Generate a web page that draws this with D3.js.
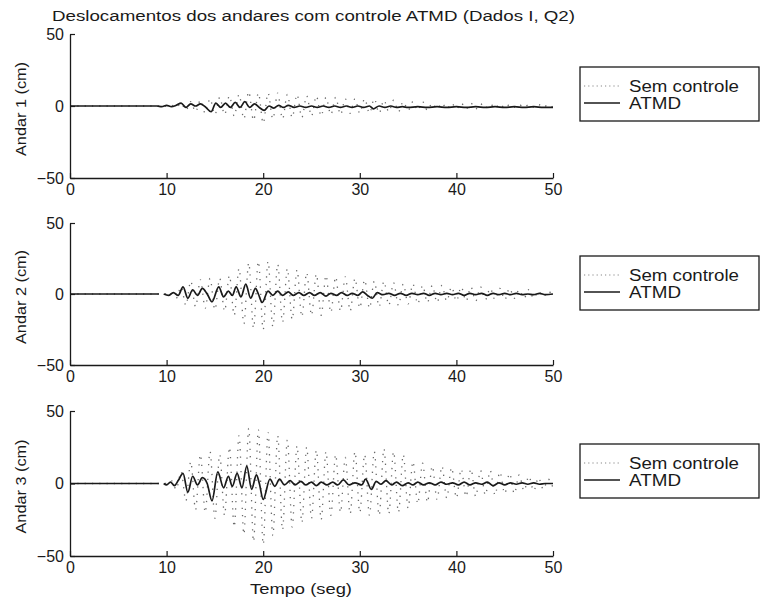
<!DOCTYPE html>
<html>
<head>
<meta charset="utf-8">
<script src="https://cdn.jsdelivr.net/npm/d3@7"></script>
<style>
  html, body { margin: 0; padding: 0; background: #fff; }
  svg { display: block; }
  text { font-family: "Liberation Sans", Arial, Helvetica, sans-serif; fill: #1a1a1a; }
</style>
</head>
<body>
<svg id="chart" width="760" height="603"></svg>
<script>
// Floor displacement records (cm) versus time (s)
const titulo = "Deslocamentos dos andares com controle ATMD (Dados I, Q2)";
const andares = ["Andar 1 (cm)", "Andar 2 (cm)", "Andar 3 (cm)"];
const legendaSerie = ["Sem controle", "ATMD"];
const ticksTempo = [0, 10, 20, 30, 40, 50];
const ticksDesloc = [-50, 0, 50];

// Uncontrolled response: successive extremes every 0.5 s from t = 10 s to 50 s
const tempoSem = d3.range(10, 50.001, 0.5);
const semAndar1 = [
  0, 0.5, -1, 2, -3, 3, -4, 4, -5, 5,
  -6, 6, -6, 7, -7, 8, -9, 10, -10, 9,
  -12, 9, -9, 9, -9, 8, -8, 8, -8, 7,
  -7, 7, -7, 6, -6, 6, -6, 5, -5, 5,
  -5, 5, -5, 5, -5, 4, -4, 4, -4, 3,
  -3, 3, -3, 3, -3, 2, -2, 2, -2, 2,
  -2, 2, -2, 2, -2, 1.5, -1.5, 1.5, -1.5, 1.5,
  -1.5, 1, -1, 1, -1, 1, -1, 1, -1, 1,
  -1
];
const semAndar2 = [
  0, 1, -3, 5, -8, 9, -9, 10, -10, 11,
  -11, 11, -12, 13, -15, 18, -21, 22, -24, 23,
  -25, 23, -23, 21, -20, 18, -18, 17, -16, 15,
  -15, 14, -15, 13, -13, 12, -12, 12, -12, 11,
  -10, 10, -10, 9, -9, 9, -8, 8, -8, 7,
  -7, 7, -7, 6, -6, 6, -6, 6, -5, 5,
  -5, 5, -5, 5, -5, 5, -4, 4, -4, 4,
  -4, 4, -3, 3, -3, 3, -3, 2, -2, 2,
  -2
];
const semAndar3 = [
  0, 2, -4, 8, -12, 15, -18, 20, -20, 22,
  -24, 20, -22, 25, -30, 33, -35, 38, -40, 37,
  -42, 35, -36, 33, -32, 30, -30, 26, -27, 25,
  -24, 23, -25, 22, -22, 20, -20, 18, -21, 22,
  -20, 20, -22, 22, -22, 24, -21, 22, -20, 20,
  -17, 15, -14, 14, -13, 12, -11, 12, -10, 11,
  -10, 10, -9, 10, -9, 9, -8, 9, -8, 8,
  -7, 7, -7, 6, -5, 5, -5, 4, -4, 3,
  -3
];

// ATMD-controlled response: [time (s), displacement (cm)], null marks a gap in the record
const atmdAndar1 = [
  [0, 0], [9, 0], [9.5, -0.5], [10, 0.5], [10.5, -0.5], [11, 0.5], [11.5, 2], [12, -1],
  [12.5, 1.5], [13, 0], [13.5, 1.5], [14, -0.5], [14.6, -4], [15.1, 2], [15.6, -1], [16.1, 2],
  [16.6, -1], [17.1, 2.5], [17.6, -1], [18.1, 3], [18.6, -1], [19.1, 1.5], [19.6, -1], [20.1, -3],
  [20.6, 0], [21.1, -1.5], [21.6, 0.5], [22.1, -1], [22.6, 0.5], [23.2, -1], [23.8, 0], [24.4, -1],
  [25, 0], [25.6, -1], [26.2, 0], [26.8, -1], [27.4, 0], [28, -1], [28.6, 0], [29.2, -1],
  [29.8, 0], [30.4, -1], [31, 0], [31.4, -2], [32, 0], [32.6, -1], [33.2, 0], [33.8, -1],
  [34.4, -0.5], [35, -1], [36, -0.5], [37, -1], [38, -0.5], [39, -1], [40, -0.5], [41, -1],
  [42, -0.5], [43, -1], [44, -0.5], [45, -1], [46, -0.5], [47, -1], [48, -0.5], [49, -1], [50, -1]
];
const atmdAndar2 = [
  [0, 0], [9.2, 0], [9.4, null], [9.7, 0], [10.2, -1], [10.7, 1], [11.2, -1], [11.7, 5],
  [12.2, -3], [12.7, 3], [13.2, -1], [13.7, 4], [14.2, 0], [14.7, -5.5], [15.4, 5], [15.9, -2],
  [16.4, 2], [16.8, -1], [17.2, 5], [17.7, -2], [18.2, 7], [18.7, -3], [19.2, 4], [19.5, 0],
  [19.9, -6], [20.5, 2], [21, -1], [21.5, 2], [22, -1], [22.6, 1.5], [23.1, -1], [23.7, 1],
  [24.2, -1], [24.8, 1], [25.3, -1], [25.9, 1], [26.5, -1.5], [27, 0.5], [27.6, -1], [28.1, 1],
  [28.7, -1], [29.2, 0.5], [29.8, -1], [30.3, 1.5], [30.8, -1], [31.3, -3], [31.8, 1], [32.4, -0.5],
  [33, 0.5], [33.6, -1], [34.2, 0.5], [34.8, -1], [35.4, 0.5], [36, -0.5], [36.6, 0.5], [37.2, -1],
  [37.8, 0.5], [38.4, -0.5], [39, 0.5], [39.6, -0.5], [40.2, 0.5], [40.8, -1], [41.4, 0.5], [42, -0.5],
  [42.6, 0.5], [43.2, -1], [43.8, 0.5], [44.4, -0.5], [45, 0.5], [45.6, -0.5], [46.2, 0.5], [46.8, -0.5],
  [47.4, 0], [48, -0.5], [48.6, 0.5], [49.2, -0.5], [50, 0]
];
const atmdAndar3 = [
  [0, 0], [9.2, 0], [9.4, null], [9.7, 0], [10, -1], [10.4, 1], [10.8, -1.5], [11.2, 2],
  [11.7, 7], [12.2, -6], [12.7, 5], [13.2, -1], [13.7, 4], [14.2, 0], [14.7, -12], [15.3, 8],
  [15.9, -3], [16.4, 5], [16.8, -2], [17.3, 7], [17.8, -3], [18.3, 12], [18.8, -4], [19.3, 6],
  [19.6, 0], [20, -11], [20.7, 3], [21.2, -2], [21.7, 3], [22.2, -1], [22.8, 2], [23.3, -1],
  [23.9, 1.5], [24.4, -1], [25, 1], [25.5, -1.5], [26, 1], [26.6, -1], [27.2, 1], [27.7, -1],
  [28.3, 2.5], [28.9, -1], [29.5, 0.5], [30.2, -1], [30.6, 3], [31.2, -4], [31.7, 1.5], [32.2, -0.5],
  [32.7, 2], [33.3, -1], [33.8, 1], [34.4, -1.5], [35, 0.5], [35.5, -1], [36, 1], [36.6, -1],
  [37.2, 0.5], [37.8, -1], [38.4, 1], [39, -0.5], [39.6, 0.5], [40.2, -1], [40.8, 1], [41.4, -1],
  [42, 0.5], [42.6, -0.5], [43.2, 1], [43.8, -1.5], [44.4, 0.5], [45, -1], [45.6, 0.5], [46.2, -0.5],
  [46.8, 0.5], [47.4, -0.5], [48, 0.5], [48.6, -0.5], [49.2, 0], [50, 0]
];

const semSeries = [semAndar1, semAndar2, semAndar3];
const atmdSeries = [atmdAndar1, atmdAndar2, atmdAndar3];

// ---- layout ----
const svg = d3.select("#chart");
const left = 70, right = 553;
const panels = [
  { top: 34, bottom: 178 },
  { top: 223, bottom: 365 },
  { top: 411, bottom: 556 }
];
const ink = "#1a1a1a";

const x = d3.scaleLinear().domain([0, 50]).range([left, right]);

svg.append("text")
  .attr("x", 52).attr("y", 20.5)
  .attr("font-size", 15.5)
  .attr("textLength", 523).attr("lengthAdjust", "spacingAndGlyphs")
  .text(titulo);

panels.forEach((p, i) => {
  const y = d3.scaleLinear().domain([-50, 50]).range([p.bottom, p.top]);
  const g = svg.append("g");

  const line = d3.line()
    .defined(d => d[1] !== null)
    .x(d => x(d[0])).y(d => y(d[1]))
    .curve(d3.curveMonotoneX);

  // uncontrolled: dotted trace
  const semPts = [[0, 0]].concat(tempoSem.map((t, k) => [t, semSeries[i][k]]));
  g.append("path")
    .datum(semPts)
    .attr("d", line)
    .attr("fill", "none")
    .attr("stroke", "#6a6a6a")
    .attr("stroke-width", 1.3)
    .attr("stroke-dasharray", "1.3,6");

  // ATMD: solid trace
  g.append("path")
    .datum(atmdSeries[i])
    .attr("d", line)
    .attr("fill", "none")
    .attr("stroke", ink)
    .attr("stroke-width", 1.7)
    .attr("stroke-linejoin", "round");

  // axes (left and bottom only, ticks pointing inward)
  const ax = g.append("g")
    .attr("transform", `translate(0,${p.bottom})`)
    .call(d3.axisBottom(x).tickValues(ticksTempo).tickSizeInner(-5).tickSizeOuter(0).tickPadding(6));
  const ay = g.append("g")
    .attr("transform", `translate(${left},0)`)
    .call(d3.axisLeft(y).tickValues(ticksDesloc).tickSizeInner(-5).tickSizeOuter(0).tickPadding(6)
      .tickFormat(d => d < 0 ? "\u2212" + Math.abs(d) : d));
  [ax, ay].forEach(a => {
    a.select(".domain").attr("stroke", ink).attr("stroke-width", 1.3);
    a.selectAll(".tick line").attr("stroke", ink).attr("stroke-width", 1.2);
    a.selectAll(".tick text").attr("fill", ink).attr("font-size", 16)
      .attr("font-family", "'Liberation Sans', Arial, sans-serif");
  });

  // y label
  const cy = (p.top + p.bottom) / 2 + 3;
  svg.append("text")
    .attr("transform", `translate(26,${cy}) rotate(-90)`)
    .attr("text-anchor", "middle")
    .attr("font-size", 15.5)
    .attr("textLength", 94).attr("lengthAdjust", "spacingAndGlyphs")
    .text(andares[i]);

  // legend
  const ly = p.top + 33;
  const lg = svg.append("g").attr("transform", `translate(580,${ly})`);
  lg.append("rect").attr("x", 0).attr("y", 0).attr("width", 179).attr("height", 54)
    .attr("fill", "#fff").attr("stroke", ink).attr("stroke-width", 1.3);
  lg.append("line").attr("x1", 4).attr("x2", 40).attr("y1", 19).attr("y2", 19)
    .attr("stroke", "#888").attr("stroke-width", 1.2).attr("stroke-dasharray", "1.2,3");
  lg.append("line").attr("x1", 4).attr("x2", 40).attr("y1", 36).attr("y2", 36)
    .attr("stroke", ink).attr("stroke-width", 1.6);
  lg.append("text").attr("x", 49).attr("y", 25).attr("font-size", 16)
    .attr("textLength", 110).attr("lengthAdjust", "spacingAndGlyphs")
    .text(legendaSerie[0]);
  lg.append("text").attr("x", 49).attr("y", 42).attr("font-size", 16)
    .attr("textLength", 52).attr("lengthAdjust", "spacingAndGlyphs")
    .text(legendaSerie[1]);
});

svg.append("text")
  .attr("x", 301).attr("y", 594)
  .attr("text-anchor", "middle")
  .attr("font-size", 15.5)
  .attr("textLength", 102).attr("lengthAdjust", "spacingAndGlyphs")
  .text("Tempo (seg)");
</script>
</body>
</html>
